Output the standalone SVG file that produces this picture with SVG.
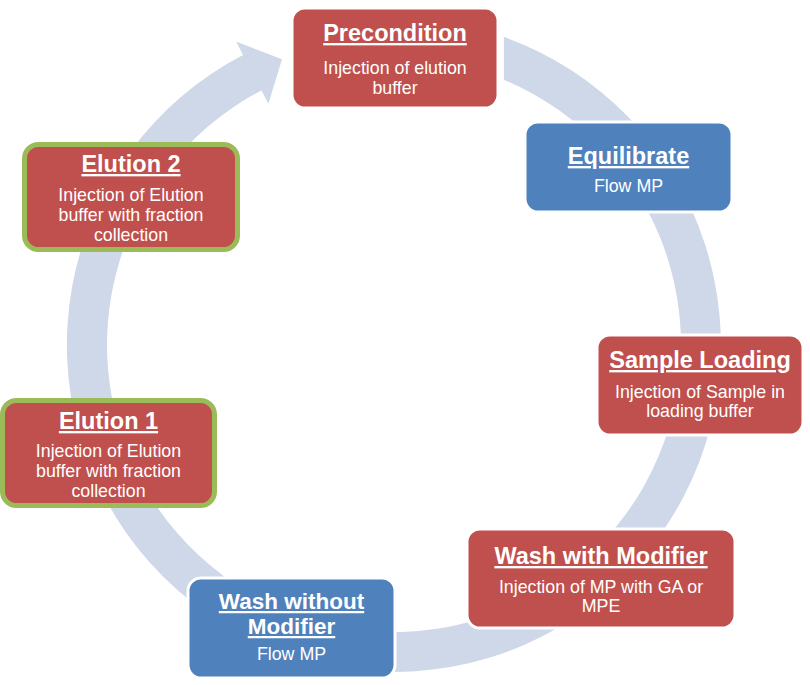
<svg xmlns="http://www.w3.org/2000/svg" width="810" height="685" viewBox="0 0 810 685">
<style>
.t{font-family:"Liberation Sans",Arial,sans-serif;font-weight:bold;font-size:23.5px;fill:#fff;text-anchor:middle;text-decoration:underline}
.b{font-family:"Liberation Sans",Arial,sans-serif;font-size:17.8px;fill:#fff;text-anchor:middle}
.red{fill:#C0504D;stroke:#fff;stroke-width:3}
.blue{fill:#4F81BD;stroke:#fff;stroke-width:3}
.grn{fill:#C0504D;stroke:#9BBB59;stroke-width:5}
</style>
<rect width="810" height="685" fill="#fff"/>
<g id="connectors">
<path d="M504 37.1 A327 327 0 1 1 243 54.9 L236.1 41.6 L282 59.2 L268.4 103.7 L261.5 90.4 A287 287 0 1 0 504 79.9 Z" fill="#CFD8E8"/>
</g>
<g id="precondition">
<rect class="red" x="292" y="8" width="206" height="100" rx="13"/>
<text class="t" x="395" y="41">Precondition</text>
<text class="b" x="395" y="74">Injection of elution</text>
<text class="b" x="395" y="94">buffer</text>
</g>
<g id="equilibrate">
<rect class="blue" x="525" y="122" width="207" height="90" rx="13"/>
<text class="t" x="628.5" y="164">Equilibrate</text>
<text class="b" x="628.5" y="192">Flow MP</text>
</g>
<g id="sample-loading">
<rect class="red" x="597" y="335" width="206" height="100" rx="13"/>
<text class="t" x="700" y="368">Sample Loading</text>
<text class="b" x="700" y="398">Injection of Sample in</text>
<text class="b" x="700" y="417">loading buffer</text>
</g>
<g id="wash-with-modifier">
<rect class="red" x="467" y="529" width="268" height="99" rx="13"/>
<text class="t" x="601" y="564">Wash with Modifier</text>
<text class="b" x="601" y="593">Injection of MP with GA or</text>
<text class="b" x="601" y="612">MPE</text>
</g>
<g id="wash-without-modifier">
<rect class="blue" x="188" y="578" width="207" height="100" rx="13"/>
<text class="t" x="291.5" y="609" style="font-size:22.5px">Wash without</text>
<text class="t" x="291.5" y="634" style="font-size:22.5px">Modifier</text>
<text class="b" x="291.5" y="660">Flow MP</text>
</g>
<g id="elution-1">
<rect class="grn" x="2.5" y="400.5" width="212" height="105" rx="14"/>
<text class="t" x="108.5" y="429">Elution 1</text>
<text class="b" x="108.5" y="456.5">Injection of Elution</text>
<text class="b" x="108.5" y="476.5">buffer with fraction</text>
<text class="b" x="108.5" y="496.5">collection</text>
</g>
<g id="elution-2">
<rect class="grn" x="24.5" y="144.5" width="213" height="105" rx="14"/>
<text class="t" x="131" y="172">Elution 2</text>
<text class="b" x="131" y="200.5">Injection of Elution</text>
<text class="b" x="131" y="220.5">buffer with fraction</text>
<text class="b" x="131" y="240.5">collection</text>
</g>
</svg>
